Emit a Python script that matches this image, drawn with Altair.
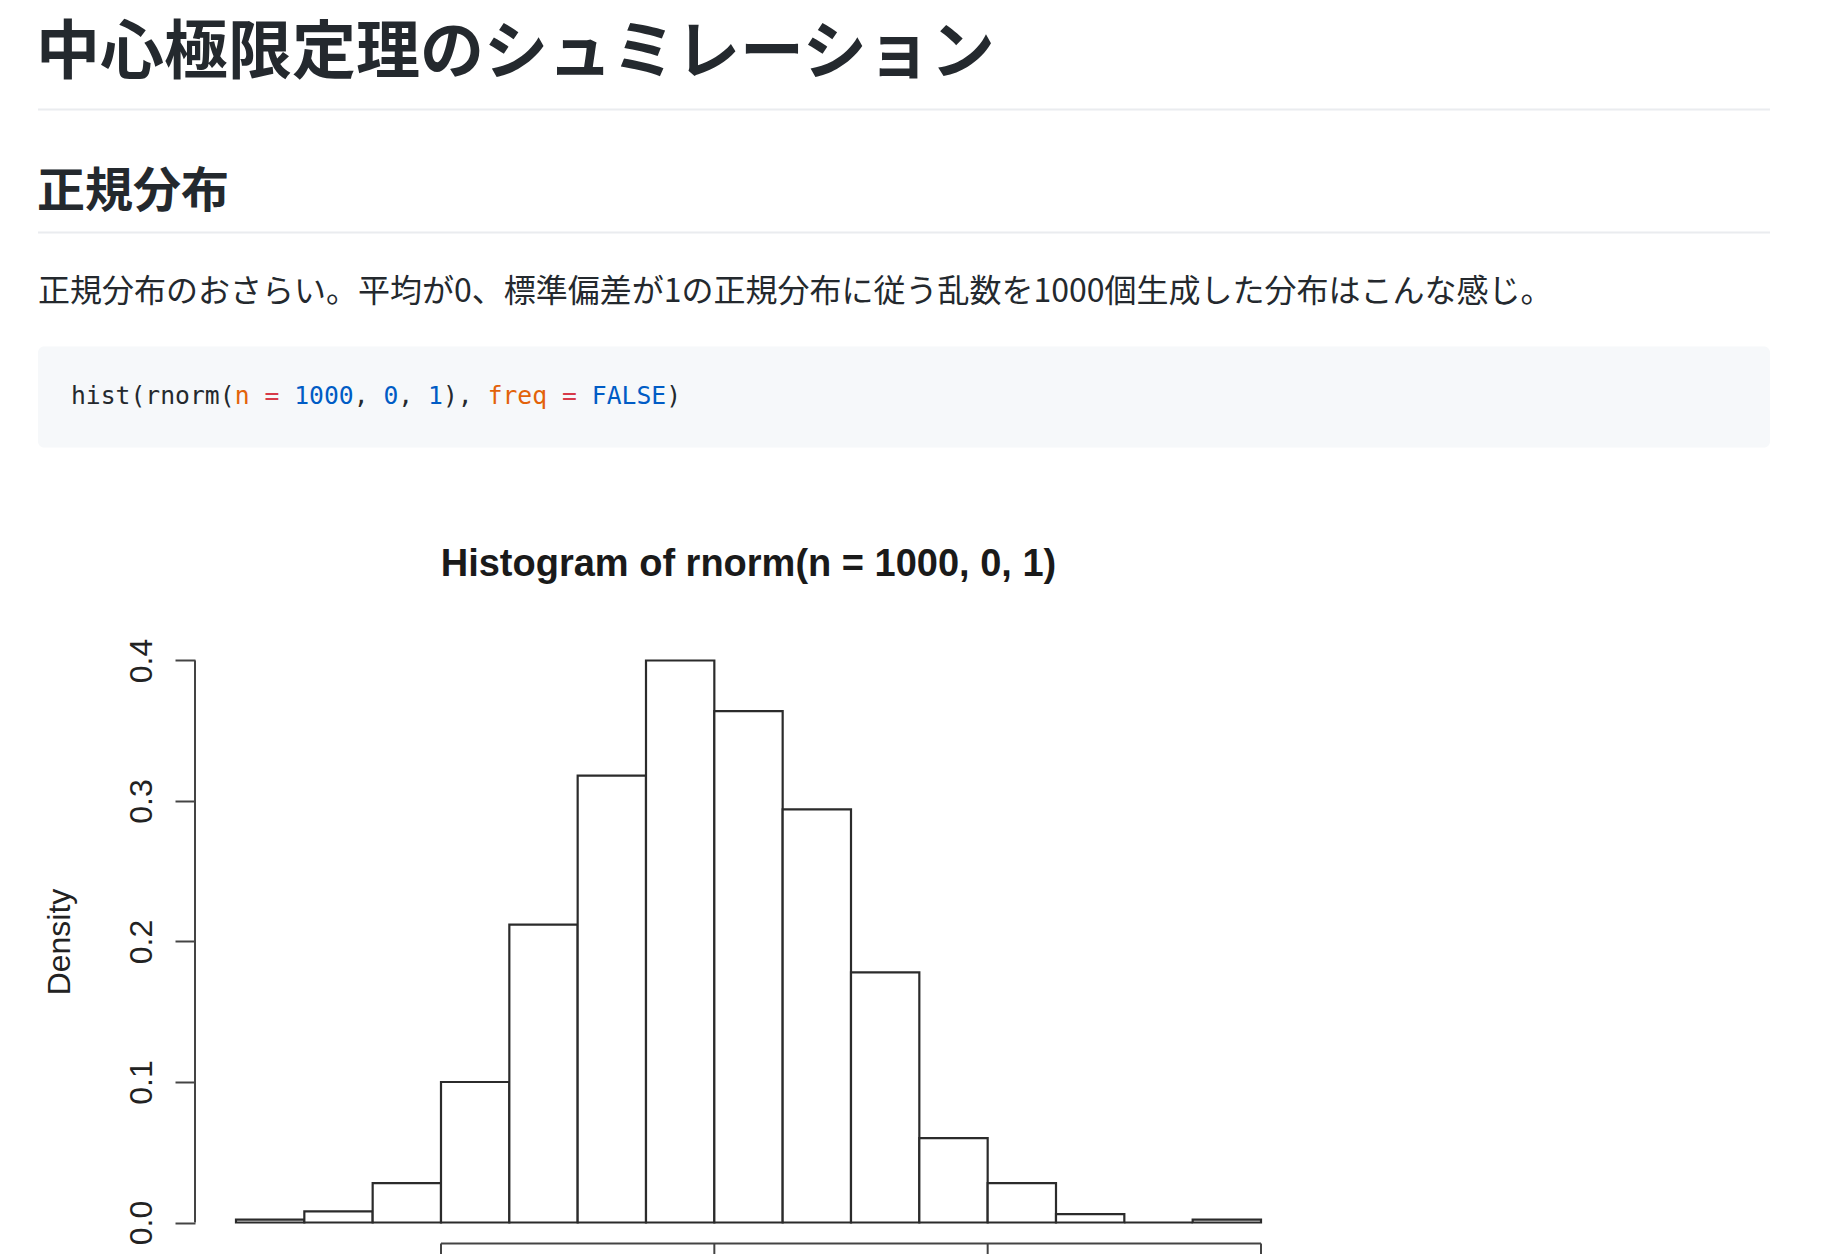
import altair as alt
import pandas as pd

# ---------------- data ----------------
bin_left = [-3.5, -3.0, -2.5, -2.0, -1.5, -1.0, -0.5, 0.0, 0.5, 1.0, 1.5, 2.0, 2.5, 3.0, 3.5]
bin_right = [-3.0, -2.5, -2.0, -1.5, -1.0, -0.5, 0.0, 0.5, 1.0, 1.5, 2.0, 2.5, 3.0, 3.5, 4.0]
density = [0.002, 0.008, 0.028, 0.100, 0.212, 0.318, 0.400, 0.364, 0.294, 0.178,
           0.060, 0.028, 0.006, 0.000, 0.002]
y_ticks = [0.0, 0.1, 0.2, 0.3, 0.4]
x_ticks = [-2, 0, 2, 4]

page_title = "中心極限定理のシュミレーション"
section_title = "正規分布"
paragraph = "正規分布のおさらい。平均が0、標準偏差が1の正規分布に従う乱数を1000個生成した分布はこんな感じ。"
plot_title = "Histogram of rnorm(n = 1000, 0, 1)"
y_title = "Density"

DARK = "#24292e"
ORANGE = "#e36209"
RED = "#d73a49"
BLUE = "#005cc5"
code_tokens = [
    ("hist(rnorm(", DARK), ("n", ORANGE), (" ", DARK), ("=", RED), (" ", DARK),
    ("1000", BLUE), (", ", DARK), ("0", BLUE), (", ", DARK), ("1", BLUE),
    ("), ", DARK), ("freq", ORANGE), (" ", DARK), ("=", RED), (" ", DARK),
    ("FALSE", BLUE), (")", DARK),
]

# ---------------- layout (page pixels) ----------------
PAGE_W, PAGE_H = 1828, 1254
OX, OY = 195, 637.5          # plot-area origin on the page
PW, PH = 1107, 607           # plot-area size


def rx(v):
    return v - OX


def ry(v):
    return v - OY


one = pd.DataFrame({"k": [0]})

CJK = "Noto Sans CJK JP"
RFONT = "Liberation Sans"
MONO = "DejaVu Sans Mono"

layers = []

# invisible page frame (fixes page extent; page itself is white background)
layers.append(
    alt.Chart(one).mark_rect(color="white", opacity=0).encode(
        x=alt.value(rx(0)), x2=alt.value(rx(PAGE_W)),
        y=alt.value(ry(0)), y2=alt.value(ry(PAGE_H)),
    )
)

# h1
layers.append(
    alt.Chart(one).mark_text(text=page_title, font=CJK, fontSize=64, fontWeight="bold",
                             color=DARK, align="left", baseline="alphabetic").encode(
        x=alt.value(rx(36)), y=alt.value(ry(72)))
)
# h1 rule
layers.append(
    alt.Chart(one).mark_rect(color="#eaecef").encode(
        x=alt.value(rx(38)), x2=alt.value(rx(1770)),
        y=alt.value(ry(108)), y2=alt.value(ry(110)))
)
# h2
layers.append(
    alt.Chart(one).mark_text(text=section_title, font=CJK, fontSize=48, fontWeight="bold",
                             color=DARK, align="left", baseline="alphabetic").encode(
        x=alt.value(rx(37)), y=alt.value(ry(206)))
)
# h2 rule
layers.append(
    alt.Chart(one).mark_rect(color="#eaecef").encode(
        x=alt.value(rx(38)), x2=alt.value(rx(1770)),
        y=alt.value(ry(231)), y2=alt.value(ry(233)))
)
# paragraph
layers.append(
    alt.Chart(one).mark_text(text=paragraph, font=CJK, fontSize=32, fontWeight="normal",
                             color=DARK, align="left", baseline="alphabetic").encode(
        x=alt.value(rx(38)), y=alt.value(ry(301)))
)
# code block background
layers.append(
    alt.Chart(one).mark_rect(color="#f6f8fa", cornerRadius=6).encode(
        x=alt.value(rx(38)), x2=alt.value(rx(1770)),
        y=alt.value(ry(346)), y2=alt.value(ry(447)))
)
# code tokens
CH_W = 14.88
CODE_X0 = 71
offset = 0
for tok, col in code_tokens:
    if tok.strip():
        layers.append(
            alt.Chart(one).mark_text(text=tok, font=MONO, fontSize=24.7, color=col,
                                     align="left", baseline="alphabetic").encode(
                x=alt.value(rx(CODE_X0 + offset * CH_W)), y=alt.value(ry(403)))
        )
    offset += len(tok)

# histogram title
layers.append(
    alt.Chart(one).mark_text(text=plot_title, font=RFONT, fontSize=38, fontWeight="bold",
                             color="#1a1a1a", align="center", baseline="alphabetic").encode(
        x=alt.value(PW / 2), y=alt.value(ry(575)))
)

# ---------------- histogram ----------------
hist_df = pd.DataFrame({"left": bin_left, "right": bin_right, "density": density})
xscale = alt.Scale(domain=[-3.8, 4.3], nice=False, zero=False)
yscale = alt.Scale(domain=[-0.016, 0.416], nice=False, zero=False)

yaxis = alt.Axis(values=y_ticks, format=".1f", domain=False, grid=False, zindex=1,
                 tickSize=20, tickWidth=2, tickColor="#444444",
                 labelAngle=270, labelAlign="center", labelBaseline="alphabetic",
                 labelPadding=23.4, labelFont=RFONT, labelFontSize=32,
                 labelColor="#222222", labelFlush=False, labelOverlap=False,
                 title=y_title, titleFont=RFONT, titleFontSize=32,
                 titleFontWeight="normal", titleColor="#222222",
                 titleAngle=270, titleAlign="center", titleBaseline="alphabetic",
                 titleX=rx(69.6), titleY=PH / 2)

bars = alt.Chart(hist_df).mark_rect(fill="white", stroke="#2b2b2b", strokeWidth=2.2).encode(
    x=alt.X("left:Q", scale=xscale, axis=None),
    x2="right:Q",
    y=alt.Y("density:Q", scale=yscale, axis=yaxis),
    y2=alt.Y2(datum=0),
)
layers.append(bars)

# y axis line from 0 to 0.4
yline_df = pd.DataFrame({"y0": [y_ticks[0]], "y1": [y_ticks[-1]]})
layers.append(
    alt.Chart(yline_df).mark_rule(color="#444444", strokeWidth=2).encode(
        x=alt.value(0),
        y=alt.Y("y0:Q", scale=yscale, axis=yaxis), y2="y1:Q")
)

# x axis line from first to last tick
xline_df = pd.DataFrame({"x0": [x_ticks[0]], "x1": [x_ticks[-1]], "ya": [-0.015]})
layers.append(
    alt.Chart(xline_df).mark_rule(color="#444444", strokeWidth=2).encode(
        x=alt.X("x0:Q", scale=xscale, axis=None), x2="x1:Q",
        y=alt.Y("ya:Q", scale=yscale, axis=yaxis))
)
xt_df = pd.DataFrame({"t": x_ticks, "ya": [-0.015] * len(x_ticks)})
layers.append(
    alt.Chart(xt_df).mark_rule(color="#444444", strokeWidth=2).encode(
        x=alt.X("t:Q", scale=xscale, axis=None),
        y=alt.Y("ya:Q", scale=yscale, axis=yaxis),
        y2=alt.value(ry(PAGE_H) - 0.5))
)

chart = alt.layer(*layers).properties(
    width=PW, height=PH, padding=0, background="white"
).configure_view(stroke=None)

chart.save("out.html", embed_options={"renderer": "svg", "actions": False})
